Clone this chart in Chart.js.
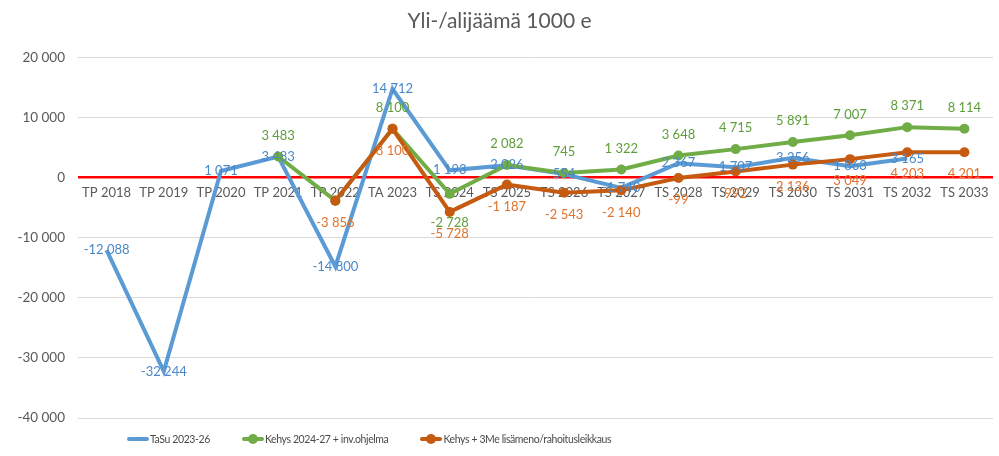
<!DOCTYPE html>
<html>
<head>
<meta charset="utf-8">
<script src="https://cdn.jsdelivr.net/npm/chart.js@4.4.0/dist/chart.umd.min.js"></script>
<style>
  html, body { margin: 0; padding: 0; background: #fff; }
  #wrap { position: relative; width: 999px; height: 456px; }
  #legend { position: absolute; left: 127px; top: 431px; display: flex; gap: 32px;
            font: 10.5px Lato, sans-serif; letter-spacing: -0.4px; color: #4a4a4a; }
  .item { display: flex; align-items: center; height: 16px; white-space: nowrap; }
  .mark { position: relative; width: 22px; height: 10px; margin-right: 1px; }
  .mark .ln { position: absolute; left: 0; right: 0; top: 3px; height: 4px; border-radius: 2px; }
  .mark .dot { position: absolute; left: 6px; top: 0px; width: 10px; height: 10px; border-radius: 50%; }
</style>
</head>
<body>
<div id="wrap">
  <canvas id="chart" width="999" height="456"></canvas>
  <div id="legend"></div>
</div>
<script>
const labels = ['TP 2018', 'TP 2019', 'TP 2020', 'TP 2021', 'TP 2022', 'TA 2023', 'TS 2024', 'TS 2025',
  'TS 2026', 'TS 2027', 'TS 2028', 'TS 2029', 'TS 2030', 'TS 2031', 'TS 2032', 'TS 2033'];
const tasu = [-12088, -32244, 1071, 3483, -14800, 14712, 1193, 2026, 554, -1740, 2367, 1707, 3256, 1863, 3165, null];
const kehys = [null, null, null, 3483, -3856, 8100, -2728, 2082, 745, 1322, 3648, 4715, 5891, 7007, 8371, 8114];
const kehys3Me = [null, null, null, null, -3856, 8100, -5728, -1187, -2543, -2140, -99, 992, 2136, 3049, 4203, 4201];
const yTicks = [20000, 10000, 0, -10000, -20000, -30000, -40000];

const FONT = 'Lato';
const GREY = '#595959';

function fmt(v) {
  const s = Math.abs(v).toString().replace(/\B(?=(\d{3})+(?!\d))/g, ' ');
  return (v < 0 ? '-' : '') + s;
}

// excel style data labels, drawn over all lines
const dataLabels = {
  id: 'dataLabels',
  afterDatasetsDraw(chart) {
    const ctx = chart.ctx;
    ctx.save();
    ctx.font = '13px ' + FONT;
    ctx.textAlign = 'center';
    ctx.textBaseline = 'middle';
    chart.data.datasets.forEach((ds, i) => {
      const meta = chart.getDatasetMeta(i);
      const opt = ds.labelOpts;
      meta.data.forEach((pt, j) => {
        const v = ds.data[j];
        if (v === null || opt.hide.includes(j)) return;
        const dy = opt.below.includes(j) ? opt.belowDy : opt.dy;
        ctx.fillStyle = opt.color;
        ctx.fillText(fmt(v), pt.x, pt.y + dy);
      });
    });
    ctx.restore();
  }
};

const datasets = [
  {
    label: 'TaSu 2023-26',
    data: tasu,
    borderColor: '#5B9BD5',
    backgroundColor: '#5B9BD5',
    borderWidth: 4,
    pointRadius: 0,
    order: 3,
    labelOpts: { color: '#4A88C8', dy: 0, hide: [], below: [] },
  },
  {
    label: 'Kehys 2024-27 + inv.ohjelma',
    data: kehys,
    borderColor: '#70AD47',
    backgroundColor: '#70AD47',
    borderWidth: 4,
    pointRadius: 5,
    pointBorderWidth: 0,
    order: 2,
    labelOpts: { color: '#5E9E3A', dy: -21, hide: [4], below: [6], belowDy: 29 },
  },
  {
    label: 'Kehys + 3Me lisämeno/rahoitusleikkaus',
    data: kehys3Me,
    borderColor: '#C55A11',
    backgroundColor: '#C55A11',
    borderWidth: 4,
    pointRadius: 5,
    pointBorderWidth: 0,
    order: 1,
    labelOpts: { color: '#E0732F', dy: 22, hide: [], below: [] },
  },
];

const chart = new Chart(document.getElementById('chart'), {
  type: 'line',
  data: { labels: labels, datasets: datasets },
  options: {
    responsive: false,
    animation: false,
    layout: { padding: { left: 6, right: 6, bottom: 38 } },
    elements: { line: { tension: 0 } },
    plugins: {
      legend: { display: false },
      tooltip: { enabled: false },
      title: {
        display: true,
        text: 'Yli-/alijäämä 1000 e',
        color: GREY,
        font: { family: FONT, size: 21, weight: 'normal' },
        padding: { top: 9, bottom: 23 },
      },
    },
    scales: {
      x: {
        position: { y: 0 },
        offset: true,
        grid: { display: false, drawTicks: false },
        border: { display: false },
        ticks: {
          color: GREY,
          font: { family: FONT, size: 13 },
          padding: 8,
          autoSkip: false,
          maxRotation: 0,
        },
      },
      y: {
        min: -40000,
        max: 20000,
        afterBuildTicks: s => { s.ticks = yTicks.map(v => ({ value: v })); },
        afterFit: s => { s.width = 72; },
        grid: {
          drawTicks: false,
          color: c => c.tick.value === 0 ? '#FF0000' : '#D9D9D9',
          lineWidth: c => c.tick.value === 0 ? 2.5 : 1,
        },
        border: { display: false },
        ticks: {
          color: GREY,
          font: { family: FONT, size: 13.5 },
          padding: 13,
          callback: v => fmt(v),
        },
      },
    },
  },
  plugins: [dataLabels],
});

// legend: line + marker like excel
const legendEl = document.getElementById('legend');
datasets.forEach(ds => {
  const item = document.createElement('div');
  item.className = 'item';
  const mark = document.createElement('span');
  mark.className = 'mark';
  const ln = document.createElement('span');
  ln.className = 'ln';
  ln.style.background = ds.borderColor;
  mark.appendChild(ln);
  if (ds.pointRadius > 0) {
    const dot = document.createElement('span');
    dot.className = 'dot';
    dot.style.background = ds.borderColor;
    mark.appendChild(dot);
  }
  item.appendChild(mark);
  item.appendChild(document.createTextNode(ds.label));
  legendEl.appendChild(item);
});
</script>
</body>
</html>
